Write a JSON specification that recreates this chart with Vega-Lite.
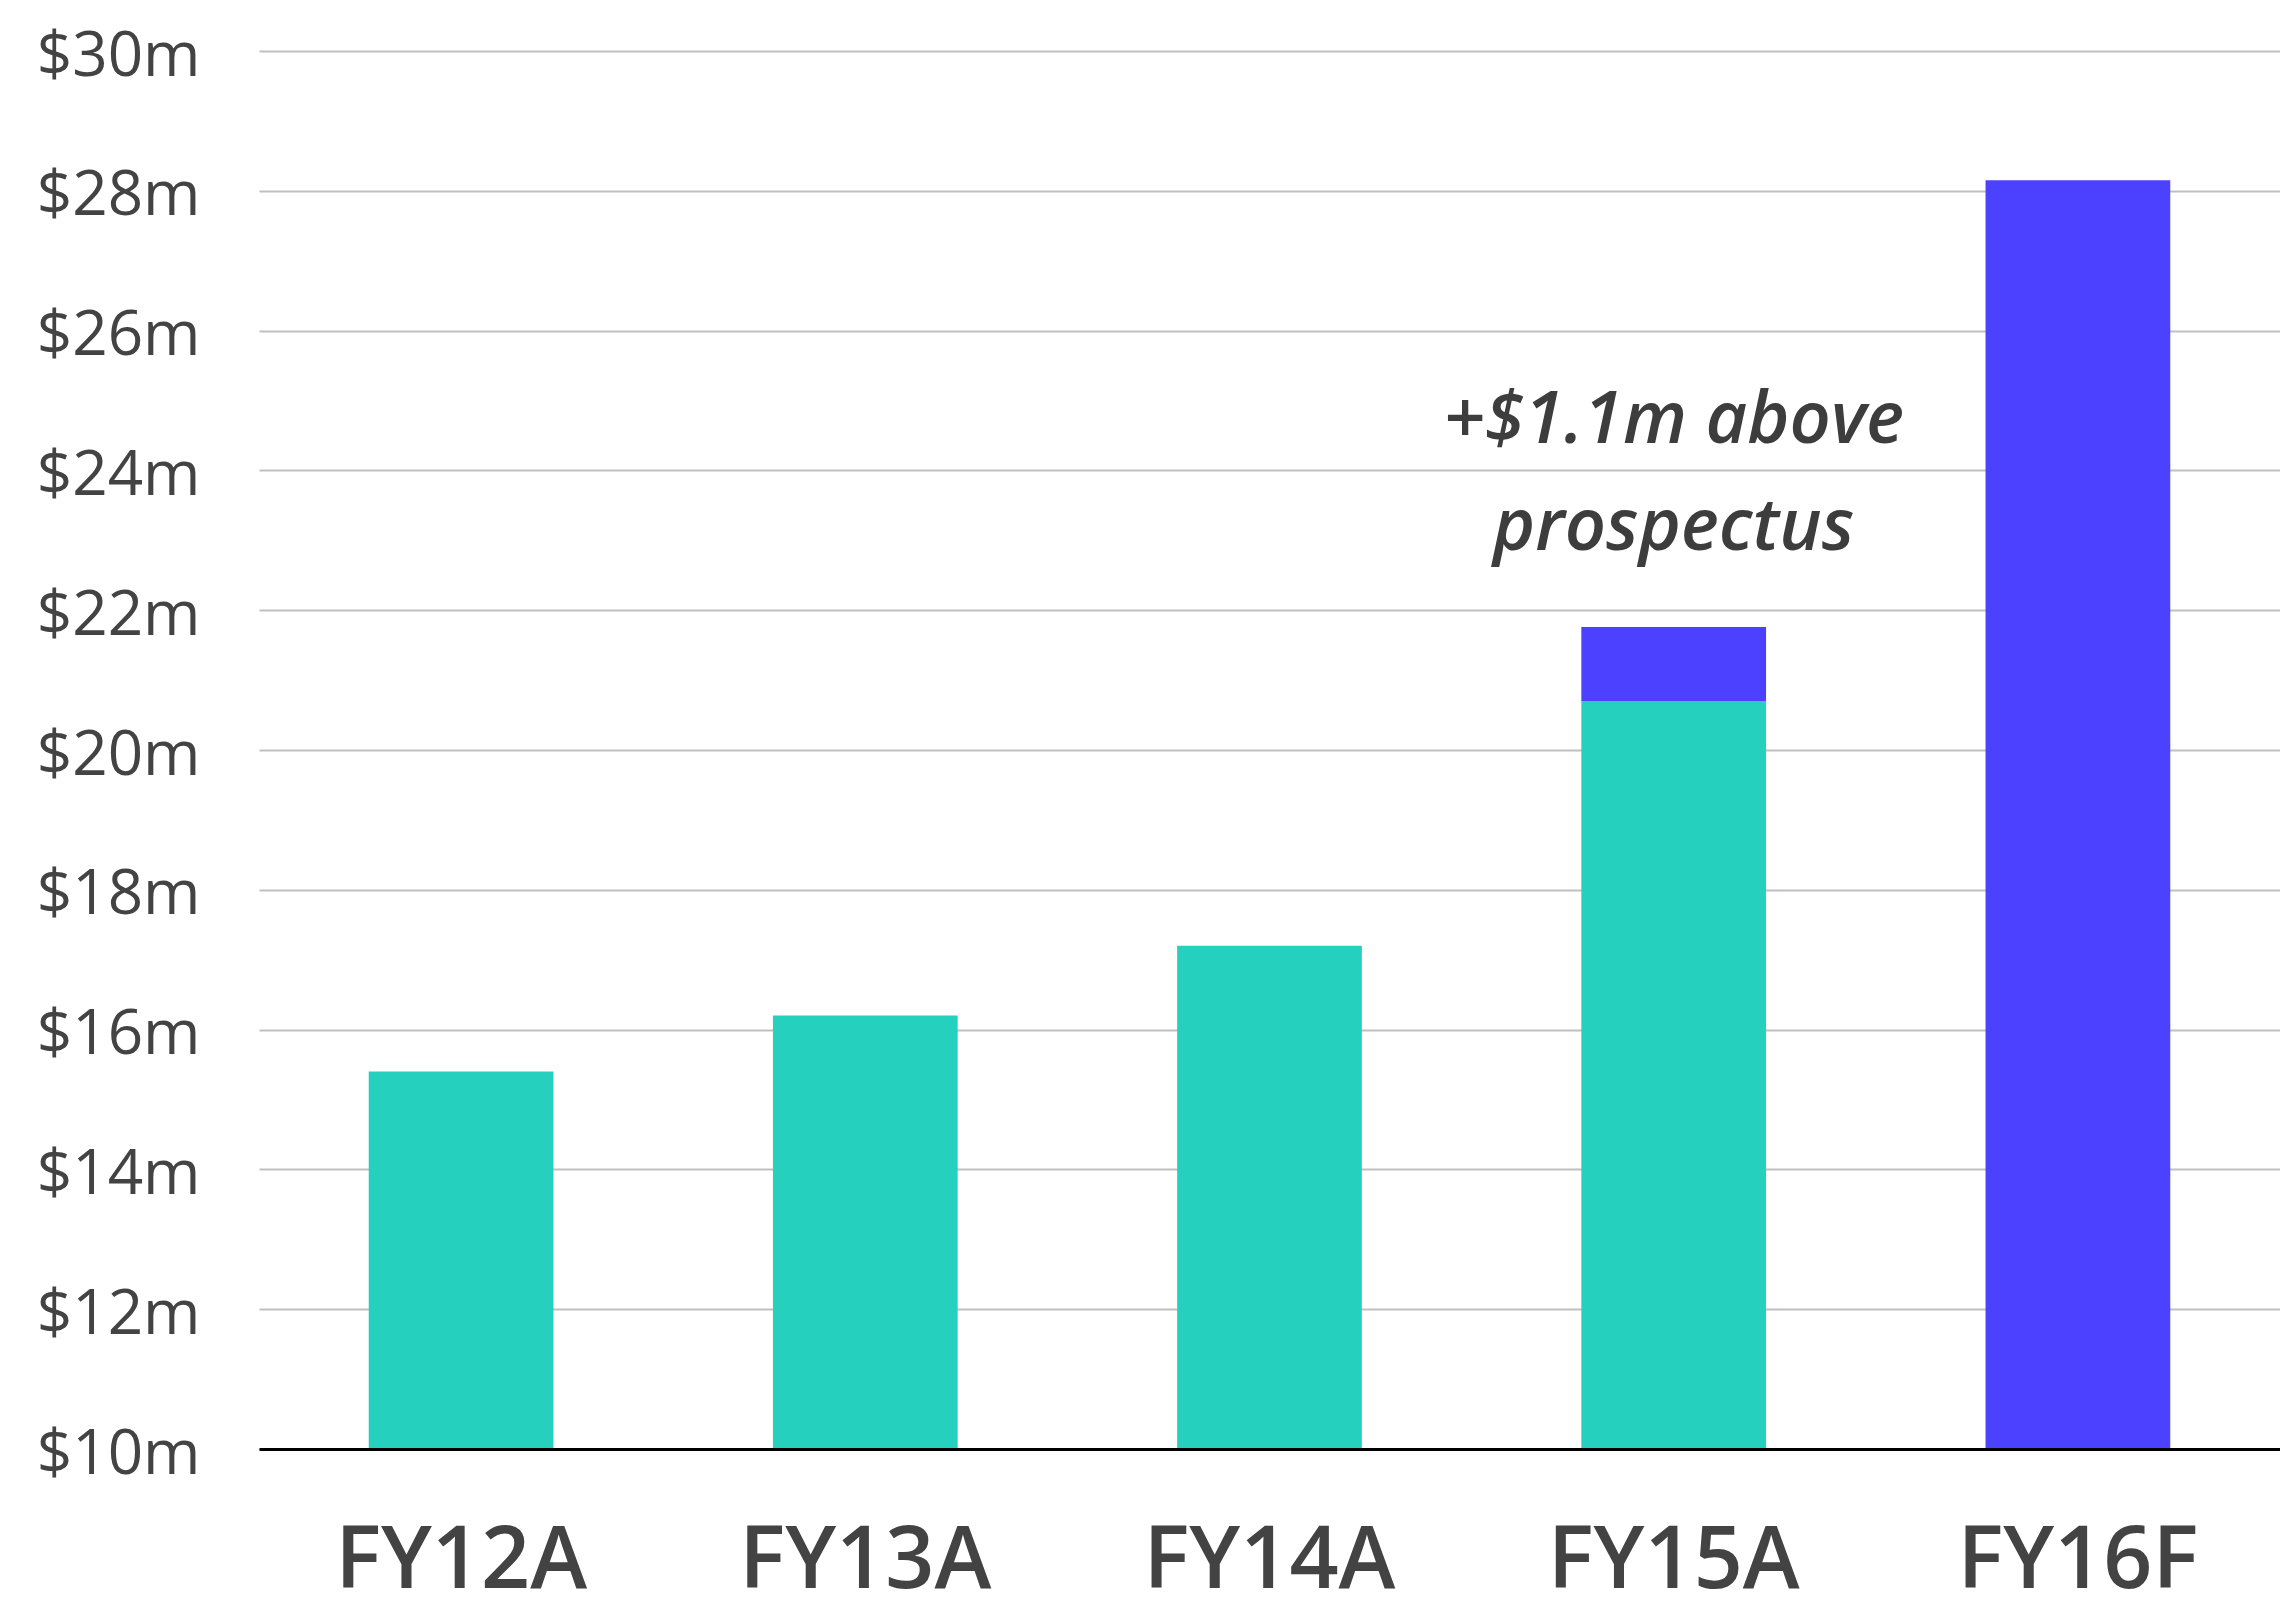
{
  "$schema": "https://vega.github.io/schema/vega-lite/v6.json",
  "width": 2021,
  "height": 1398,
  "autosize": {"type": "none"},
  "padding": {"left": 259, "top": 51, "right": 0, "bottom": 164},
  "background": "white",
  "config": {
    "view": {"stroke": null},
    "font": "Open Sans"
  },
  "datasets": {
    "bars": [
      {"year": "FY12A", "series": "Actual", "seg": 1, "value": 15.4},
      {"year": "FY13A", "series": "Actual", "seg": 1, "value": 16.2},
      {"year": "FY14A", "series": "Actual", "seg": 1, "value": 17.2},
      {"year": "FY15A", "series": "Actual", "seg": 1, "value": 20.7},
      {"year": "FY15A", "series": "Above prospectus", "seg": 2, "value": 1.06},
      {"year": "FY16F", "series": "Forecast", "seg": 1, "value": 28.15}
    ],
    "notes": [
      {"year": "FY15A", "value": 24.39, "label": "+$1.1m above\nprospectus"}
    ]
  },
  "layer": [
    {
      "data": {"name": "bars"},
      "mark": {"type": "bar", "clip": true},
      "encoding": {
        "x": {
          "field": "year", "type": "nominal", "sort": null,
          "scale": {"paddingInner": 0.543, "paddingOuter": 0.2715},
          "axis": {
            "title": null, "labelAngle": 0, "ticks": false, "labelLimit": 0,
            "labelFontSize": 86, "labelFontWeight": 600, "labelColor": "#434343", "labelPadding": 70,
            "domainColor": "#000000", "domainWidth": 3, "zindex": 1
          }
        },
        "y": {
          "field": "value", "type": "quantitative", "stack": "zero",
          "scale": {"domain": [10, 30], "nice": false, "zero": false},
          "axis": {
            "title": null, "values": [10, 12, 14, 16, 18, 20, 22, 24, 26, 28, 30],
            "labelExpr": "'$' + datum.value + 'm'", "labelLimit": 0,
            "labelFontSize": 62, "labelFontWeight": 500, "labelColor": "#434343", "labelPadding": 59,
            "labelOffset": 5,
            "ticks": false, "domain": false,
            "grid": true, "gridColor": "#c0c0c0", "gridWidth": 2
          }
        },
        "order": {"field": "seg", "type": "quantitative"},
        "color": {
          "field": "series", "type": "nominal",
          "scale": {"domain": ["Actual", "Above prospectus", "Forecast"], "range": ["#26D0BE", "#4C41FF", "#4C41FF"]},
          "legend": null
        }
      }
    },
    {
      "data": {"name": "notes"},
      "mark": {
        "type": "text", "font": "Open Sans", "fontSize": 72, "fontStyle": "italic",
        "fontWeight": 600, "color": "#3d3d3d", "align": "center", "baseline": "alphabetic",
        "lineBreak": "\n", "lineHeight": 107
      },
      "encoding": {
        "x": {"field": "year", "type": "nominal", "sort": null},
        "y": {"field": "value", "type": "quantitative"},
        "text": {"field": "label"}
      }
    }
  ]
}
